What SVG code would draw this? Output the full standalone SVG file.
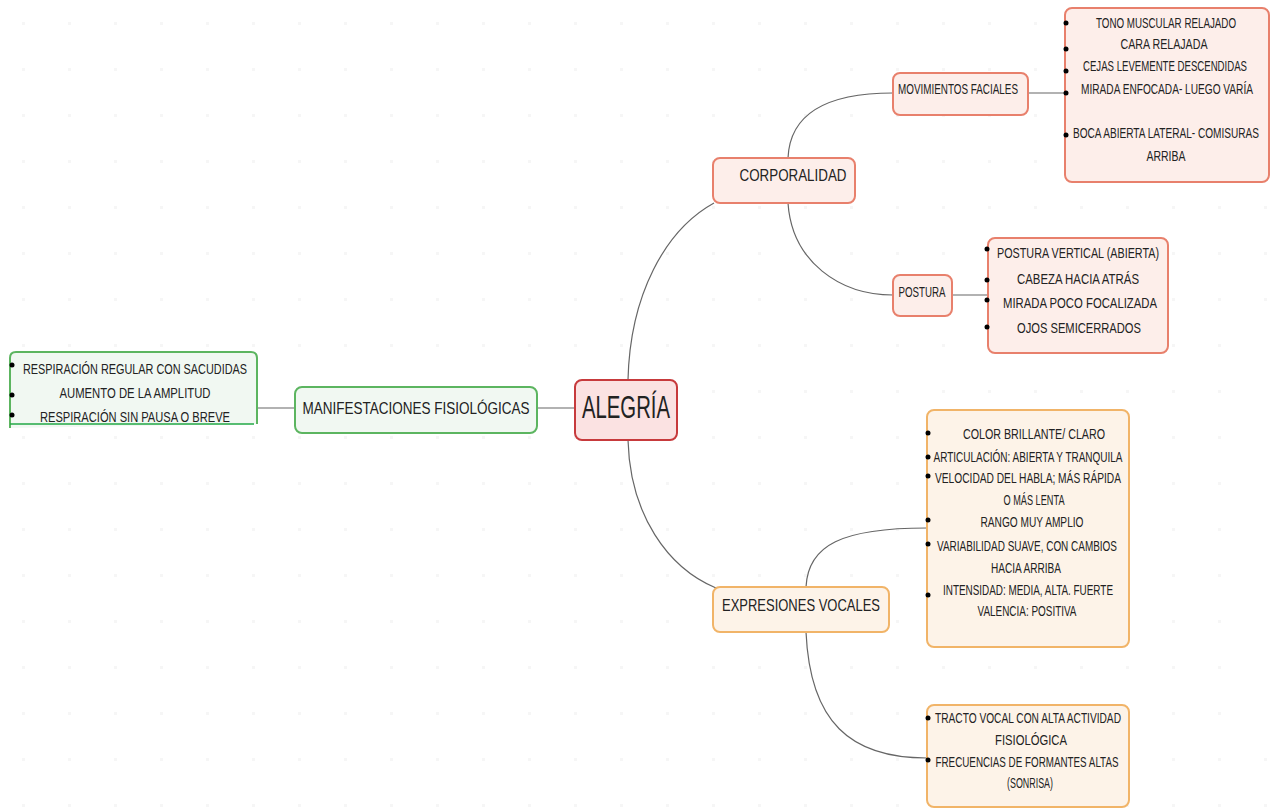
<svg xmlns="http://www.w3.org/2000/svg" width="1272" height="810" viewBox="0 0 1272 810">
<defs>
<pattern id="grid" width="46" height="46" patternUnits="userSpaceOnUse">
<rect x="22" y="22" width="3" height="3" fill="#f6f6f6"/>
</pattern>
</defs>
<style>
text{font-family:"Liberation Sans Narrow","Liberation Sans",Arial,sans-serif;fill:#222;text-anchor:middle}
.d{font-size:15px}
.h{font-size:17px}
.red{fill:#fbe2e2;stroke:#c73a3c;stroke-width:2}
.sal{fill:#fdeeea;stroke:#e8806c;stroke-width:2}
.org{fill:#fdf3e8;stroke:#f1b468;stroke-width:2}
.grn{fill:#f1f8f2;stroke:#5cb560;stroke-width:2}
.con path,.con line{fill:none;stroke:#666;stroke-width:1.2}
.dot{fill:#000}
</style>
<rect width="1272" height="810" fill="#fff"/>
<rect width="1272" height="810" fill="url(#grid)"/>
<rect x="1225" y="330" width="47" height="420" fill="#fff"/>

<g id="connectors" class="con">
<line x1="257" y1="408" x2="295" y2="408"/>
<line x1="537" y1="408" x2="575" y2="408"/>
<path d="M628,380 C630,295 665,230 714,203"/>
<path d="M628,440 C630,515 668,568 716,588"/>
<path d="M788,158 C790,112 830,93 893,93"/>
<path d="M788,203 C792,262 840,295 893,295"/>
<line x1="1028" y1="93" x2="1065" y2="93"/>
<line x1="952" y1="295" x2="988" y2="295"/>
<path d="M806,587 C808,545 842,528 927,528"/>
<path d="M806,632 C810,722 850,758 927,758"/>
</g>

<g id="alegria">
<rect class="red" x="575" y="380" width="102" height="60" rx="7"/>
<text x="626" y="418" style="font-size:31px" textLength="88" lengthAdjust="spacingAndGlyphs">ALEGRÍA</text>
</g>

<g id="manifestaciones">
<rect class="grn" x="295" y="387" width="242" height="46" rx="7"/>
<text class="h" x="416" y="414" textLength="227" lengthAdjust="spacingAndGlyphs">MANIFESTACIONES FISIOLÓGICAS</text>
</g>

<g id="respiracion">
<path d="M10,428 V358 Q10,352 16,352 H251 Q257,352 257,358 V424" fill="#f1f8f2" stroke="#5cb560" stroke-width="2"/>
<line x1="10" y1="424" x2="254" y2="424" stroke="#22a846" stroke-width="1.5"/>
<circle class="dot" cx="12" cy="365" r="2.5"/>
<circle class="dot" cx="12" cy="395" r="2.5"/>
<circle class="dot" cx="12" cy="415" r="2.5"/>
<text class="d" x="135" y="374" textLength="224" lengthAdjust="spacingAndGlyphs">RESPIRACIÓN REGULAR CON SACUDIDAS</text>
<text class="d" x="135" y="398" textLength="151" lengthAdjust="spacingAndGlyphs">AUMENTO DE LA AMPLITUD</text>
<text class="d" x="135" y="422" textLength="190" lengthAdjust="spacingAndGlyphs">RESPIRACIÓN SIN PAUSA O BREVE</text>
</g>

<g id="corporalidad">
<rect class="sal" x="713" y="158" width="142" height="45" rx="7"/>
<text class="h" x="793" y="181" textLength="107" lengthAdjust="spacingAndGlyphs">CORPORALIDAD</text>
</g>

<g id="movimientos">
<rect class="sal" x="893" y="73" width="135" height="42" rx="7"/>
<text class="d" x="958" y="94" textLength="120" lengthAdjust="spacingAndGlyphs">MOVIMIENTOS FACIALES</text>
</g>

<g id="faciales-detalle">
<rect class="sal" x="1065" y="8" width="204" height="174" rx="7"/>
<circle class="dot" cx="1066" cy="23" r="2.5"/>
<circle class="dot" cx="1066" cy="49" r="2.5"/>
<circle class="dot" cx="1066" cy="71" r="2.5"/>
<circle class="dot" cx="1066" cy="93" r="2.5"/>
<circle class="dot" cx="1066" cy="135" r="2.5"/>
<text class="d" x="1166" y="28" textLength="140" lengthAdjust="spacingAndGlyphs">TONO MUSCULAR RELAJADO</text>
<text class="d" x="1164" y="49" textLength="87" lengthAdjust="spacingAndGlyphs">CARA RELAJADA</text>
<text class="d" x="1165" y="71" textLength="164" lengthAdjust="spacingAndGlyphs">CEJAS LEVEMENTE DESCENDIDAS</text>
<text class="d" x="1167" y="94" textLength="172" lengthAdjust="spacingAndGlyphs">MIRADA ENFOCADA- LUEGO VARÍA</text>
<text class="d" x="1166" y="138" textLength="186" lengthAdjust="spacingAndGlyphs">BOCA ABIERTA LATERAL- COMISURAS</text>
<text class="d" x="1166" y="161" textLength="39" lengthAdjust="spacingAndGlyphs">ARRIBA</text>
</g>

<g id="postura">
<rect class="sal" x="893" y="275" width="59" height="41" rx="7"/>
<text class="d" x="922" y="297" textLength="47" lengthAdjust="spacingAndGlyphs">POSTURA</text>
</g>

<g id="postura-detalle">
<rect class="sal" x="988" y="238" width="180" height="115" rx="7"/>
<circle class="dot" cx="987" cy="249" r="2.5"/>
<circle class="dot" cx="987" cy="280" r="2.5"/>
<circle class="dot" cx="987" cy="300" r="2.5"/>
<circle class="dot" cx="987" cy="327" r="2.5"/>
<text class="d" x="1078" y="258" textLength="162" lengthAdjust="spacingAndGlyphs">POSTURA VERTICAL (ABIERTA)</text>
<text class="d" x="1078" y="284" textLength="122" lengthAdjust="spacingAndGlyphs">CABEZA HACIA ATRÁS</text>
<text class="d" x="1080" y="308" textLength="154" lengthAdjust="spacingAndGlyphs">MIRADA POCO FOCALIZADA</text>
<text class="d" x="1079" y="333" textLength="124" lengthAdjust="spacingAndGlyphs">OJOS SEMICERRADOS</text>
</g>

<g id="expresiones">
<rect class="org" x="713" y="587" width="176" height="45" rx="7"/>
<text class="h" x="801" y="611" textLength="158" lengthAdjust="spacingAndGlyphs">EXPRESIONES VOCALES</text>
</g>

<g id="vocales-detalle">
<rect class="org" x="927" y="410" width="202" height="237" rx="7"/>
<circle class="dot" cx="928" cy="433" r="2.5"/>
<circle class="dot" cx="928" cy="457" r="2.5"/>
<circle class="dot" cx="928" cy="476" r="2.5"/>
<circle class="dot" cx="928" cy="520" r="2.5"/>
<circle class="dot" cx="928" cy="544" r="2.5"/>
<circle class="dot" cx="928" cy="595" r="2.5"/>
<text class="d" x="1034" y="439" textLength="142" lengthAdjust="spacingAndGlyphs">COLOR BRILLANTE/ CLARO</text>
<text class="d" x="1028" y="462" textLength="189" lengthAdjust="spacingAndGlyphs">ARTICULACIÓN: ABIERTA Y TRANQUILA</text>
<text class="d" x="1028" y="483" textLength="186" lengthAdjust="spacingAndGlyphs">VELOCIDAD DEL HABLA; MÁS RÁPIDA</text>
<text class="d" x="1034" y="505" textLength="61" lengthAdjust="spacingAndGlyphs">O MÁS LENTA</text>
<text class="d" x="1032" y="527" textLength="103" lengthAdjust="spacingAndGlyphs">RANGO MUY AMPLIO</text>
<text class="d" x="1027" y="551" textLength="180" lengthAdjust="spacingAndGlyphs">VARIABILIDAD SUAVE, CON CAMBIOS</text>
<text class="d" x="1026" y="573" textLength="70" lengthAdjust="spacingAndGlyphs">HACIA ARRIBA</text>
<text class="d" x="1028" y="595" textLength="170" lengthAdjust="spacingAndGlyphs">INTENSIDAD: MEDIA, ALTA. FUERTE</text>
<text class="d" x="1027" y="616" textLength="99" lengthAdjust="spacingAndGlyphs">VALENCIA: POSITIVA</text>
</g>

<g id="tracto-detalle">
<rect class="org" x="927" y="705" width="202" height="102" rx="7"/>
<circle class="dot" cx="928" cy="718" r="2.5"/>
<circle class="dot" cx="928" cy="760" r="2.5"/>
<text class="d" x="1028" y="723" textLength="186" lengthAdjust="spacingAndGlyphs">TRACTO VOCAL CON ALTA ACTIVIDAD</text>
<text class="d" x="1031" y="745" textLength="72" lengthAdjust="spacingAndGlyphs">FISIOLÓGICA</text>
<text class="d" x="1027" y="767" textLength="183" lengthAdjust="spacingAndGlyphs">FRECUENCIAS DE FORMANTES ALTAS</text>
<text class="d" x="1030" y="788" textLength="46" lengthAdjust="spacingAndGlyphs">(SONRISA)</text>
</g>
</svg>
